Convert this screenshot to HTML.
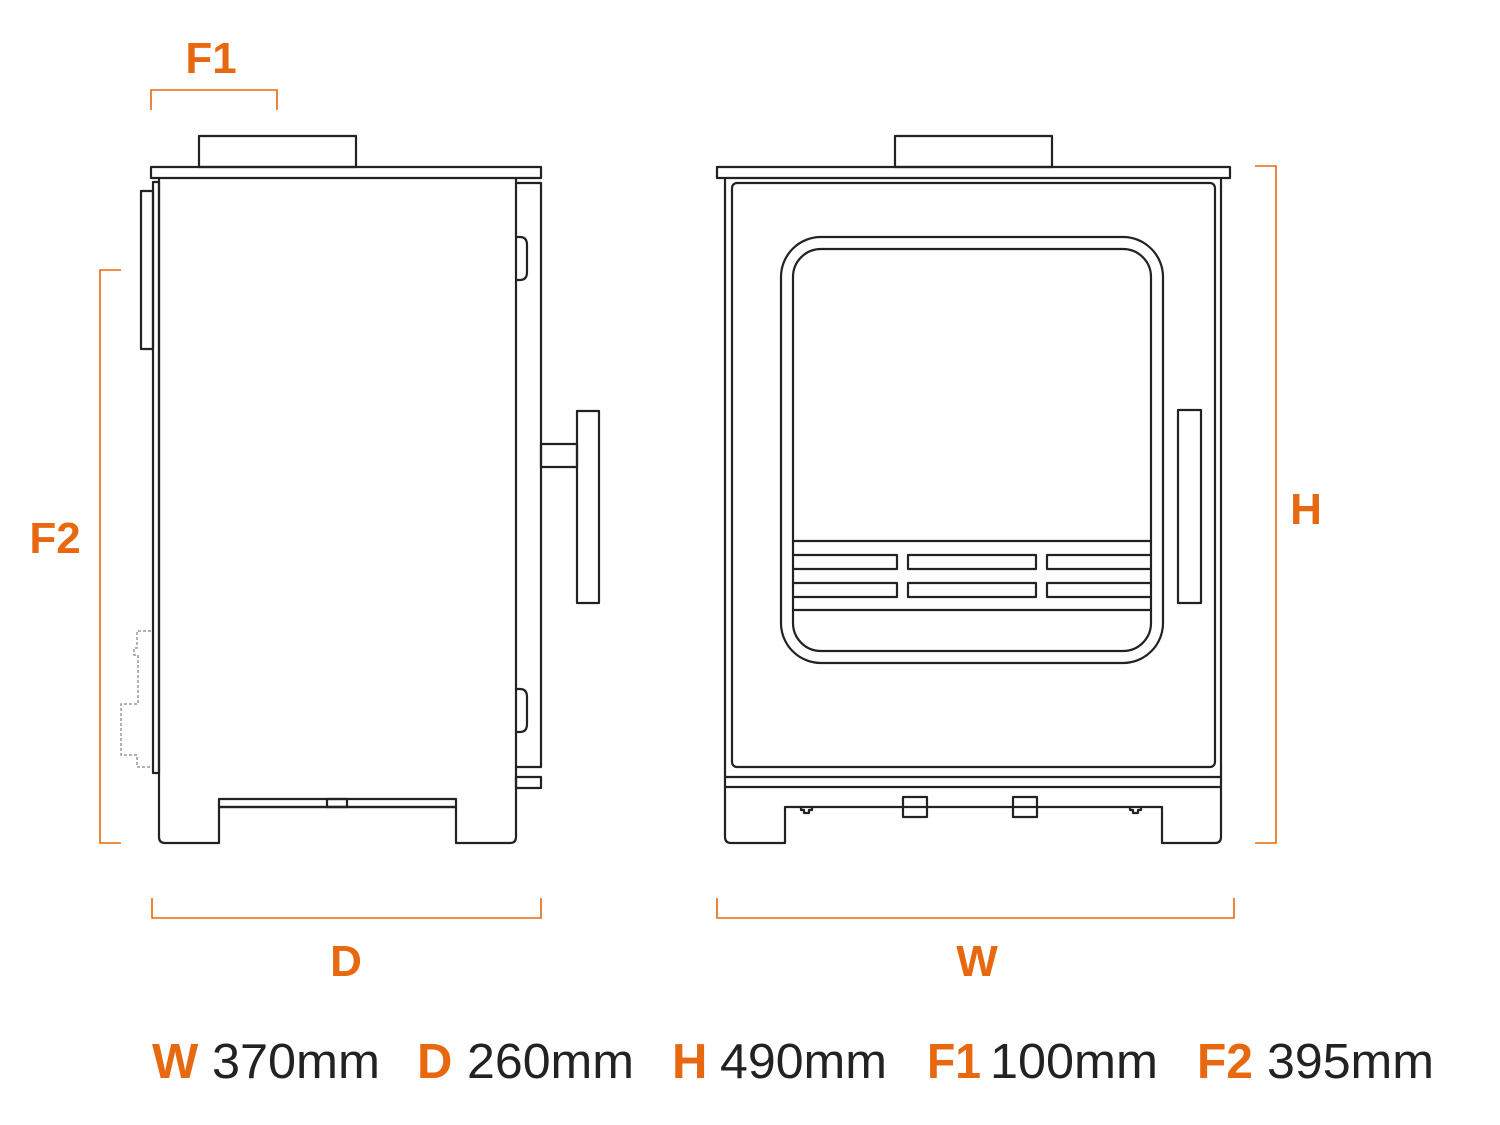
<!DOCTYPE html>
<html><head><meta charset="utf-8"><style>html,body{margin:0;padding:0;background:#fff}svg{display:block}</style></head>
<body>
<svg width="1500" height="1125" viewBox="0 0 1500 1125" xmlns="http://www.w3.org/2000/svg">
<g fill="none" stroke="#222" stroke-width="2.2" stroke-linejoin="round">
<!-- LEFT (side view) -->
<rect x="199" y="136" width="157" height="31"/>
<rect x="151" y="167" width="390" height="11"/>
<path d="M159,178 V837 Q159,843 165,843 H219 V807 H456 V843 H510 Q516,843 516,837 V178"/>
<rect x="153" y="182" width="6" height="591"/>
<rect x="141" y="191" width="12" height="158"/>
<path d="M516,183 H541 V767 H516"/>
<path d="M516,237 H520 Q527,237 527,245 V272 Q527,280 520,280 H516"/>
<path d="M516,689 H520 Q527,689 527,697 V724 Q527,732 520,732 H516"/>
<rect x="516" y="777" width="25" height="11"/>
<rect x="219" y="799" width="237" height="8"/>
<rect x="327" y="799" width="20" height="8"/>
<rect x="541" y="444" width="36" height="23"/>
<rect x="577" y="411" width="22" height="192"/>
<!-- RIGHT (front view) -->
<rect x="895" y="136" width="157" height="31"/>
<rect x="717" y="167" width="513" height="11"/>
<path d="M725,178 V837 Q725,843 731,843 H785 V807 H1162 V843 H1215 Q1221,843 1221,837 V178"/>
<rect x="732" y="183" width="483" height="584" rx="5"/>
<line x1="725" y1="777" x2="1221" y2="777"/>
<line x1="725" y1="787" x2="1221" y2="787"/>
<rect x="903" y="797" width="24" height="20"/>
<rect x="1013" y="797" width="24" height="20"/>
<path d="M801,807 v3 h3 v3 h5 v-3 h3 v-3"/>
<path d="M1130,807 v3 h3 v3 h5 v-3 h3 v-3"/>
<rect x="781" y="237" width="382" height="426" rx="40"/>
<rect x="793" y="249" width="358" height="402" rx="28"/>
<line x1="793" y1="541" x2="1151" y2="541"/>
<line x1="793" y1="610" x2="1151" y2="610"/>
<path d="M793,555 H897 V569 H793 M793,583 H897 V597 H793"/>
<rect x="908" y="555" width="128" height="14"/>
<rect x="908" y="583" width="128" height="14"/>
<path d="M1151,555 H1047 V569 H1151 M1151,583 H1047 V597 H1151"/>
<rect x="1178" y="410" width="23" height="193"/>
</g>
<path d="M151,631 H137 V648 H134 V655 H138 V704 H121 V755 H137 V767 H151" fill="none" stroke="#999" stroke-width="1.5" stroke-dasharray="3,2"/>
<!-- dimension lines -->
<g fill="none" stroke="#e8680f" stroke-width="1.6">
<path d="M151,110 V90 H277 V110"/>
<path d="M121,270 H100 V843 H121"/>
<path d="M152,898 V918 H541 V898"/>
<path d="M717,898 V918 H1234 V898"/>
<path d="M1255,166 H1276 V843 H1255"/>
</g>
<g font-family="Liberation Sans, sans-serif" font-weight="bold" fill="#e8680f" font-size="44" text-anchor="middle">
<text x="211" y="73">F1</text>
<text x="55" y="553">F2</text>
<text x="346" y="976">D</text>
<text x="977" y="976">W</text>
<text x="1306" y="524">H</text>
</g>
<g font-family="Liberation Sans, sans-serif" font-size="49">
<text x="152" y="1078" font-weight="bold" fill="#e8680f">W</text>
<text x="212" y="1078" fill="#222" textLength="168" lengthAdjust="spacingAndGlyphs">370mm</text>
<text x="417" y="1078" font-weight="bold" fill="#e8680f">D</text>
<text x="467" y="1078" fill="#222" textLength="167" lengthAdjust="spacingAndGlyphs">260mm</text>
<text x="672" y="1078" font-weight="bold" fill="#e8680f">H</text>
<text x="720" y="1078" fill="#222" textLength="167" lengthAdjust="spacingAndGlyphs">490mm</text>
<text x="927" y="1078" font-weight="bold" fill="#e8680f" textLength="54" lengthAdjust="spacingAndGlyphs">F1</text>
<text x="990" y="1078" fill="#222" textLength="168" lengthAdjust="spacingAndGlyphs">100mm</text>
<text x="1197" y="1078" font-weight="bold" fill="#e8680f" textLength="56" lengthAdjust="spacingAndGlyphs">F2</text>
<text x="1267" y="1078" fill="#222" textLength="167" lengthAdjust="spacingAndGlyphs">395mm</text>
</g>
</svg>
</body></html>
